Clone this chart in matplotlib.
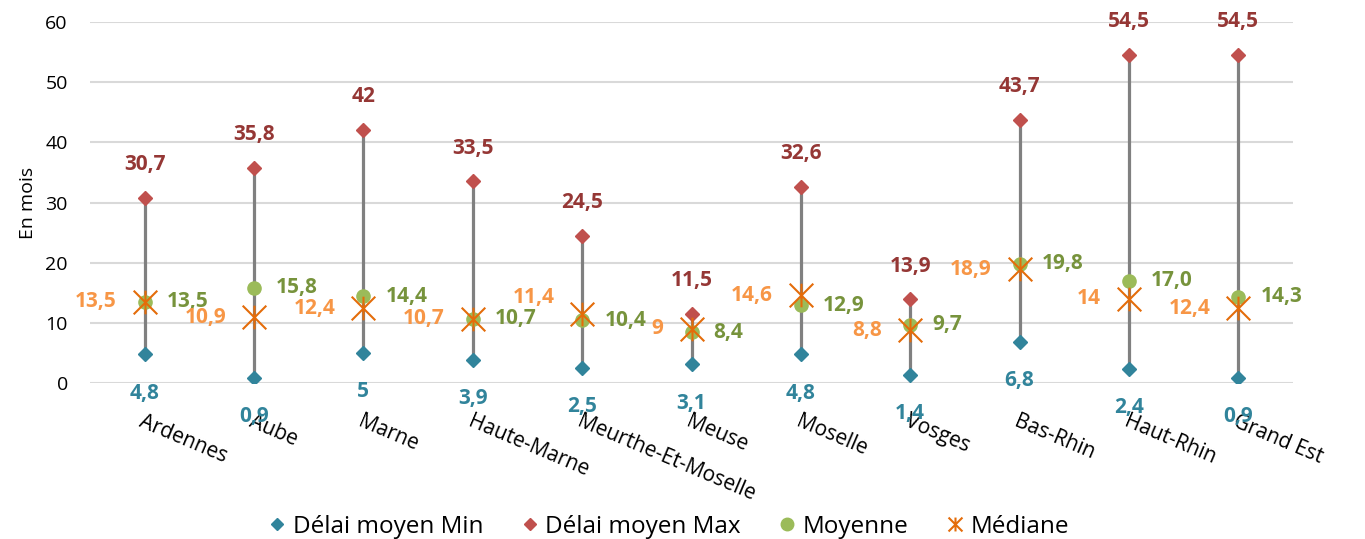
import numpy as np
import matplotlib
matplotlib.use('Agg')
import matplotlib.pyplot as plt
from matplotlib.path import Path
from matplotlib.lines import Line2D

plt.rcParams['font.family'] = ['Open Sans', 'DejaVu Sans']

# data
categories = ['Ardennes', 'Aube', 'Marne', 'Haute-Marne', 'Meurthe-Et-Moselle',
              'Meuse', 'Moselle', 'Vosges', 'Bas-Rhin', 'Haut-Rhin', 'Grand Est']
delai_min = [4.8, 0.9, 5, 3.9, 2.5, 3.1, 4.8, 1.4, 6.8, 2.4, 0.9]
delai_max = [30.7, 35.8, 42, 33.5, 24.5, 11.5, 32.6, 13.9, 43.7, 54.5, 54.5]
moyenne = [13.5, 15.8, 14.4, 10.7, 10.4, 8.4, 12.9, 9.7, 19.8, 17.0, 14.3]
mediane = [13.5, 10.9, 12.4, 10.7, 11.4, 9, 14.6, 8.8, 18.9, 14, 12.4]
yticks = [0, 10, 20, 30, 40, 50, 60]

# colours
c_min, c_min_lab = '#31849B', '#31849B'
c_max, c_max_lab = '#C0504D', '#953735'
c_moy, c_moy_lab = '#9BBB59', '#77933C'
c_med, c_med_lab = '#E46C0A', '#F79646'

# excel-like "star" marker : X with a vertical stroke
star = Path([(-1, -1), (1, 1), (-1, 1), (1, -1), (0, -1), (0, 1)],
            [Path.MOVETO, Path.LINETO, Path.MOVETO, Path.LINETO, Path.MOVETO, Path.LINETO])

def fmt(v):
    return ('%g' % v).replace('.', ',')

x = np.arange(len(categories))

fig = plt.figure(figsize=(13.65, 5.39), dpi=100)
ax = fig.add_axes([90/1365, 1-383/539, 1203/1365, 361/539])

# high-low lines
ax.vlines(x, delai_min, delai_max, color='#808080', lw=2.3, zorder=1)

ax.plot(x, delai_min, 'D', color=c_min, ms=7, ls='none', zorder=3)
ax.plot(x, delai_max, 'D', color=c_max, ms=7, ls='none', zorder=3)
ax.plot(x, moyenne, 'o', color=c_moy, ms=9.5, ls='none', zorder=3)
ax.plot(x, mediane, marker=star, color=c_med, ms=17, mew=1.5, ls='none', zorder=4)

lab = dict(fontsize=15, fontweight='bold', textcoords='offset points')
for i in range(len(categories)):
    # the median label of Meurthe-Et-Moselle sits a bit higher in the original
    med_dy = 12 if categories[i] == 'Meurthe-Et-Moselle' else 0
    ax.annotate(fmt(delai_min[i]), (x[i], delai_min[i]), xytext=(0, -28), ha='center', va='center', color=c_min_lab, **lab)
    ax.annotate(fmt(delai_max[i]), (x[i], delai_max[i]), xytext=(0, 24), ha='center', va='center', color=c_max_lab, **lab)
    ax.annotate(('%.1f' % moyenne[i]).replace('.', ','), (x[i], moyenne[i]), xytext=(16, 0), ha='left', va='center', color=c_moy_lab, **lab)
    ax.annotate(fmt(mediane[i]), (x[i], mediane[i]), xytext=(-20, med_dy), ha='right', va='center', color=c_med_lab, **lab)

ax.set_xlim(-0.5, len(categories)-0.5)
ax.set_ylim(0, 60)
ax.set_yticks(yticks)
ax.set_yticklabels([str(t) for t in yticks], fontsize=14)
ax.yaxis.grid(True, color='#D9D9D9', lw=1.5)
ax.set_axisbelow(True)
ax.set_xticks(x)
ax.set_xticklabels(categories, fontsize=15, rotation=-23, ha='left', va='top', rotation_mode='anchor')
ax.tick_params(axis='x', length=0, pad=20)
ax.tick_params(axis='y', length=0, pad=16)
for s in ax.spines.values():
    s.set_visible(False)
ax.set_ylabel('En mois', fontsize=14, labelpad=6)

handles = [Line2D([], [], ls='none', marker='D', color=c_min, ms=6.5),
           Line2D([], [], ls='none', marker='D', color=c_max, ms=6.5),
           Line2D([], [], ls='none', marker='o', color=c_moy, ms=9),
           Line2D([], [], ls='none', marker=star, color=c_med, ms=10, mew=1.5)]
labels = ['Délai moyen Min', 'Délai moyen Max', 'Moyenne', 'Médiane']
fig.legend(handles, labels, loc='center', bbox_to_anchor=(667/1365, 12/539), ncol=4, frameon=False,
           fontsize=17.5, handlelength=1.0, handletextpad=0.15, columnspacing=1.4)

fig.savefig('out.png', dpi=100)
